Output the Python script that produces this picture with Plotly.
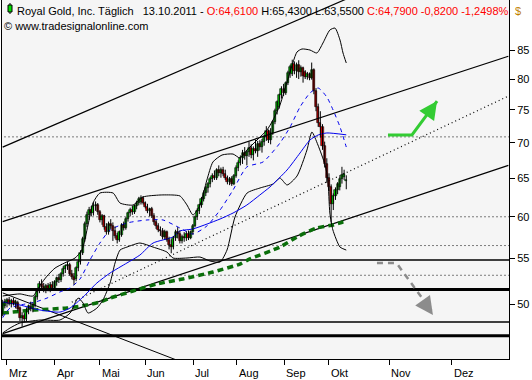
import numpy as np
import plotly.graph_objects as go

# ---------------- data ----------------
bar_index = list(range(-2, 158))   # trading-day index, 0 = 1 Mar 2011, 157 = 13 Oct 2011

opens = [48.95, 49.85, 50.15, 50.45, 50.05, 50.35, 50.05, 50.15, 49.55, 48.55,
         48.75, 48.45, 49.35, 49.65, 49.45, 49.95, 50.75, 51.35, 52.15, 51.85,
         51.55, 51.95, 51.55, 52.05, 51.75, 52.35, 52.75, 52.55, 53.25, 53.8,
         54.1, 54.3, 53.25, 52.95, 52.65, 53.9, 54.6, 55.6, 57.25, 59.1,
         60.25, 60.85, 60.45, 61.35, 61.55, 60.55, 59.6, 60.05, 58.7, 58.1,
         59.1, 58.9, 58.3, 57.65, 57.15, 57.8, 59.0, 58.6, 59.7, 60.45,
         60.85, 60.65, 61.35, 61.75, 61.85, 62.45, 61.75, 61.25, 60.75, 60.95,
         60.15, 59.3, 58.8, 58.4, 58.2, 57.55, 58.1, 57.15, 56.55, 56.35,
         57.35, 58.1, 57.9, 57.05, 57.55, 57.35, 57.9, 57.45, 58.1, 58.9,
         59.95, 60.75, 61.45, 62.25, 63.1, 63.7, 64.2, 64.9, 65.4, 65.1,
         66.1, 65.7, 66.2, 65.6, 65.0, 64.5, 64.9, 64.3, 65.4, 66.5,
         67.2, 67.9, 68.6, 68.1, 68.7, 69.3, 68.3, 69.1, 68.9, 69.8,
         69.4, 70.2, 70.9, 71.8, 70.4, 71.5, 73.1, 74.9, 75.5, 77.3,
         78.4, 77.7, 79.3, 81.0, 80.8, 82.6, 81.3, 82.4, 81.2, 81.8,
         81.2, 80.4, 80.9, 80.2, 81.6, 78.0, 75.4, 73.0, 72.3, 69.5,
         67.0, 65.1, 63.9, 61.65, 62.65, 63.5, 63.8, 64.9, 65.2, 64.61]
highs = [50.45, 50.55, 50.65, 50.75, 50.55, 50.65, 50.45, 50.35, 49.75, 49.15,
         49.05, 49.65, 49.95, 50.25, 50.15, 50.95, 51.65, 52.45, 52.65, 52.25,
         52.15, 52.25, 52.35, 52.45, 52.55, 52.95, 53.25, 53.45, 54.1, 54.3,
         54.6, 54.5, 53.7, 53.35, 54.1, 54.8, 55.95, 57.55, 59.4, 60.65,
         61.25, 61.35, 61.85, 61.95, 61.75, 60.85, 60.35, 60.25, 59.2, 59.4,
         59.7, 59.3, 58.8, 58.0, 58.3, 59.2, 59.4, 59.95, 60.65, 61.15,
         61.35, 61.55, 62.05, 62.55, 62.75, 62.65, 61.95, 61.65, 61.15, 61.25,
         60.45, 59.6, 59.2, 58.8, 58.6, 58.4, 58.3, 57.55, 57.25, 57.65,
         58.4, 58.7, 58.3, 57.8, 58.1, 58.2, 58.3, 58.3, 59.1, 60.15,
         61.05, 61.65, 62.55, 63.4, 64.0, 64.5, 65.2, 65.7, 66.1, 66.4,
         66.8, 66.5, 66.6, 66.2, 65.4, 65.2, 65.3, 65.6, 66.8, 67.5,
         68.2, 69.0, 69.4, 69.0, 70.2, 69.8, 69.5, 70.5, 70.3, 70.4,
         70.6, 71.2, 72.5, 72.0, 72.2, 73.4, 75.2, 76.5, 77.6, 78.8,
         79.2, 79.6, 81.4, 82.4, 83.3, 83.0, 82.8, 83.2, 82.3, 82.1,
         81.5, 81.2, 81.1, 82.8, 81.8, 78.5, 76.0, 74.8, 72.8, 70.2,
         67.8, 65.7, 64.2, 63.0, 63.8, 64.5, 65.3, 66.6, 66.2, 65.43]
lows = [48.75, 49.55, 49.65, 49.85, 49.65, 49.85, 49.55, 49.25, 48.25, 47.7,
        48.15, 48.25, 48.95, 49.25, 49.15, 49.65, 50.45, 51.15, 51.55, 51.25,
        51.15, 51.35, 51.25, 51.45, 51.55, 51.95, 52.25, 52.35, 52.95, 53.35,
        53.7, 53.05, 52.65, 52.05, 52.45, 53.55, 54.3, 55.4, 56.95, 58.7,
        59.6, 60.05, 60.15, 60.75, 60.25, 59.3, 59.0, 58.4, 57.8, 57.8,
        58.5, 57.05, 57.35, 56.75, 56.95, 57.55, 58.3, 58.4, 59.4, 60.05,
        60.25, 60.35, 60.95, 61.45, 61.55, 61.55, 61.05, 60.45, 60.05, 59.85,
        59.0, 58.5, 58.1, 57.65, 57.25, 57.25, 56.95, 56.05, 55.6, 56.05,
        57.05, 57.35, 56.75, 56.75, 56.95, 57.05, 57.15, 57.25, 57.8, 58.7,
        59.6, 60.35, 61.15, 61.95, 62.65, 63.1, 63.8, 64.5, 64.8, 64.8,
        65.3, 65.1, 65.3, 64.8, 64.2, 64.1, 64.0, 64.1, 65.1, 66.0,
        66.8, 67.0, 67.6, 66.8, 68.0, 67.8, 67.5, 68.5, 68.0, 68.9,
        68.6, 69.6, 70.3, 70.0, 69.8, 71.2, 72.8, 74.3, 75.2, 76.8,
        77.2, 77.4, 79.0, 80.2, 80.5, 80.8, 80.2, 80.0, 80.4, 79.4,
        80.0, 79.9, 79.8, 79.9, 77.5, 74.8, 72.4, 70.8, 69.0, 66.5,
        64.4, 63.3, 59.3, 60.85, 62.15, 62.9, 63.4, 64.3, 64.8, 63.55]
closes = [50.15, 50.25, 50.45, 50.05, 50.35, 50.05, 50.25, 49.45, 48.55, 48.75,
          48.45, 49.35, 49.75, 49.45, 49.95, 50.75, 51.35, 52.15, 51.85, 51.55,
          51.95, 51.55, 52.05, 51.75, 52.35, 52.75, 52.55, 53.25, 53.8, 54.1,
          54.3, 53.25, 52.95, 52.55, 53.9, 54.6, 55.6, 57.25, 59.1, 60.25,
          60.85, 60.45, 61.35, 61.55, 60.55, 59.6, 60.05, 58.7, 58.1, 59.1,
          58.9, 58.3, 57.65, 57.15, 58.1, 59.0, 58.6, 59.7, 60.45, 60.85,
          60.65, 61.35, 61.75, 62.25, 62.45, 61.75, 61.25, 60.75, 60.95, 60.15,
          59.3, 58.8, 58.4, 58.2, 57.55, 58.1, 57.15, 56.55, 56.35, 57.35,
          58.1, 57.9, 57.05, 57.55, 57.35, 57.9, 57.45, 58.1, 58.9, 59.95,
          60.75, 61.45, 62.25, 63.1, 63.7, 64.2, 64.9, 65.4, 65.1, 66.1,
          65.7, 66.2, 65.6, 65.0, 64.5, 64.9, 64.3, 65.4, 66.5, 67.2,
          67.9, 68.6, 68.1, 68.7, 69.3, 68.3, 69.1, 68.9, 69.8, 69.4,
          70.2, 70.9, 71.8, 70.4, 71.5, 73.1, 74.9, 76.2, 77.3, 78.4,
          77.7, 79.3, 81.0, 82.0, 82.6, 81.3, 82.4, 81.2, 81.8, 80.5,
          80.4, 80.9, 80.2, 81.6, 78.0, 75.4, 73.0, 72.3, 69.5, 67.0,
          65.1, 63.9, 61.65, 62.65, 63.5, 64.2, 64.9, 65.5, 65.61, 64.79]

# Bollinger bands (sampled along the chart)
bb_upper_x = [-2, 6, 12, 15.3, 18.5, 22.2, 26.8, 31.5, 34.7, 37.5, 39.8, 43, 49.1, 52.3,
              58.3, 62.9, 70.8, 76.8, 80.1, 83.3, 86.1, 89.3, 92.5, 95.3, 99.5, 104.6,
              107.8, 111.1, 115.7, 120.3, 123.1, 126.3, 130, 134.2, 136.5, 140.2, 143.4,
              146.2, 149.4, 151.8, 154.1, 155.5, 157]
bb_upper = [50.85, 51.07, 50.85, 52.0, 53.0, 53.9, 54.5, 55.05, 55.97, 58.98, 61.75, 63.05,
            63.05, 61.75, 61.49, 62.53, 62.79, 62.79, 62.66, 61.49, 60.22, 61.49, 64.79,
            67.28, 68.26, 68.4, 67.84, 68.98, 70.44, 71.92, 73.44, 75.77, 80.0, 84.65,
            85.18, 85.0, 84.47, 86.25, 88.62, 88.99, 86.79, 84.47, 82.73]
bb_lower_x = [-2, 1.4, 6, 15.3, 24.5, 29.2, 32.9, 35.2, 37.5, 41.6, 44.4, 47.7, 50, 52.3,
              55.5, 61.5, 67.6, 74, 76.8, 83.3, 89.3, 93.9, 98.6, 101.8, 105.5, 111.1,
              117.1, 123.1, 126.3, 129.6, 134.2, 138.8, 141.1, 143.9, 147.2, 148.5, 149.4,
              150.8, 154.1, 157]
bb_lower = [47.07, 47.56, 48.06, 48.36, 48.36, 49.07, 50.63, 50.11, 49.07, 49.58, 50.42,
            52.25, 54.48, 55.97, 56.32, 56.8, 56.32, 55.74, 55.05, 55.05, 55.16, 54.71,
            54.59, 55.97, 59.97, 63.05, 63.72, 64.25, 65.06, 64.12, 65.33, 68.98, 71.62,
            69.7, 66.86, 64.79, 60.47, 58.37, 56.32, 55.97]

# moving averages (sampled)
ma_slow_x = [-2, 6, 15.3, 24.5, 29.2, 35.2, 41.6, 47.7, 55.5, 61.5, 67.6, 76.8, 80, 86,
             92.6, 98.6, 104.6, 111, 117, 121.7, 129.6, 135.6, 140.2, 144, 148, 157]
ma_slow = [50.21, 49.9, 49.38, 49.17, 49.59, 50.74, 52.25, 53.35, 54.48, 55.39, 56.8,
           57.52, 58.25, 58.49, 59.1, 59.72, 60.47, 61.49, 62.79, 63.86, 66.16, 68.55,
           70.44, 71.18, 71.48, 71.2]
ma_fast_x = [-2, 1.4, 8.3, 13, 18.5, 24.5, 29.2, 33.8, 38.4, 43, 47.7, 55.5, 64.8, 72.2,
             80, 86, 92.5, 98.6, 104.6, 111, 118.5, 126.3, 131, 135.6, 140.2, 144, 148,
             150.9, 154.1, 157]
ma_fast = [48.6, 49.59, 50.0, 50.21, 50.63, 51.28, 51.71, 52.69, 54.82, 56.8, 58.37,
           59.23, 59.6, 59.6, 58.61, 57.88, 58.86, 60.85, 63.45, 66.58, 67.28, 69.99,
           72.38, 75.46, 77.7, 78.52, 77.05, 74.99, 72.38, 69.41]
ma_long_x = [-2, 12, 27.8, 37, 43, 47.7, 58.3, 69.4, 81.4, 95.3, 107.8, 112.4, 126.3,
             134.2, 143.4, 150.9, 155.5, 157]
ma_long = [49.07, 49.38, 49.59, 49.9, 50.21, 50.63, 51.38, 52.14, 52.69, 53.46, 54.36,
           54.94, 56.32, 57.52, 58.61, 58.98, 59.35, 59.4]

# trend lines: two anchor points each (bar index, price)
line_a_x = [-2, 160];   line_a_p = [69.4, 95.1]
line_b_x = [-2, 232];   line_b_p = [59.4, 83.9]
line_c_x = [-2, 232];   line_c_p = [47.0, 66.8]
line_d_x = [30, 232];   line_d_p = [50.2, 77.2]
line_e_x = [-2, 90];    line_e_p = [51.18, 43.6]

# horizontal levels
levels_dotted = [70.9, 60.0, 56.5, 53.1]
levels_thin = [54.82, 48.16]
levels_thick = [51.54, 46.8]

# forecast arrows
green_arrow_x = [176.3, 187.4, 199.0]
green_arrow_p = [71.18, 71.18, 76.4]
gray_arrow_x = [171.2, 179.5, 180.9, 196.4]
gray_arrow_p = [54.48, 54.48, 54.25, 49.3]
gray_tip = (197.1, 48.87)

month_ticks = [0, 22.2, 43, 63.9, 86.1, 106.4, 128.2, 149, 176.8, 205.9]
month_labels = ["Mrz", "Apr", "Mai", "Jun", "Jul", "Aug", "Sep", "Okt", "Nov", "Dez"]
price_ticks = [50, 55, 60, 65, 70, 75, 80, 85]

# ---------------- figure ----------------
FONT = "Liberation Sans, Arial, sans-serif"
X_RANGE = [-2.31, 232.3]
Y_RANGE = [np.log10(44.58), np.log10(94.36)]
XL, XR = -3, 235
UP, DOWN = "#00E400", "#E80000"

fig = go.Figure()

def add_line(x, y, color="black", width=1, dash="solid", shape="linear"):
    fig.add_trace(go.Scatter(x=x, y=y, mode="lines", hoverinfo="skip", showlegend=False,
                             line=dict(color=color, width=width, dash=dash, shape=shape,
                                       smoothing=0.6 if shape == "spline" else None)))

for lv in levels_dotted:
    add_line([XL, XR], [lv, lv], width=1, dash="1px,3px")
for lv in levels_thin:
    add_line([XL, XR], [lv, lv], width=1.6)
for lv in levels_thick:
    add_line([XL, XR], [lv, lv], width=3)

add_line(line_a_x, line_a_p, width=1.2)
add_line(line_b_x, line_b_p, width=1.2)
add_line(line_c_x, line_c_p, width=1.2)
add_line(line_d_x, line_d_p, width=1.2, dash="1px,3px")
add_line(line_e_x, line_e_p, width=1)

add_line(ma_long_x, ma_long, color="#0A6E0A", width=3.5, dash="6px,4px", shape="spline")
add_line(bb_upper_x, bb_upper, width=1, shape="spline")
add_line(bb_lower_x, bb_lower, width=1, shape="spline")
add_line(ma_slow_x, ma_slow, color="#0000EE", width=1, shape="spline")
add_line(ma_fast_x, ma_fast, color="#0000EE", width=1, dash="4px,4px", shape="spline")

# candles: wicks + bodies
wx, wy = [], []
for i, h, l in zip(bar_index, highs, lows):
    wx += [i, i, None]
    wy += [l, h, None]
fig.add_trace(go.Scatter(x=wx, y=wy, mode="lines", line=dict(color="black", width=1),
                         hoverinfo="skip", showlegend=False))
body_base = [min(o, c) for o, c in zip(opens, closes)]
body_size = [max(abs(c - o), 0.12) for o, c in zip(opens, closes)]
body_color = [UP if c >= o else DOWN for o, c in zip(opens, closes)]
fig.add_trace(go.Bar(x=bar_index, y=body_size, base=body_base, width=0.95,
                     marker=dict(color=body_color, line=dict(color="black", width=0.6)),
                     hoverinfo="skip", showlegend=False))

add_line(green_arrow_x, green_arrow_p, color="#33CC33", width=3)
add_line(gray_arrow_x, gray_arrow_p, color="#8C8C8C", width=2.5, dash="6px,5px")

annotations = []
annotations.append(dict(x=green_arrow_x[-1], y=np.log10(green_arrow_p[-1]), xref="x", yref="y",
                        text="", showarrow=True, ax=-7, ay=10, arrowhead=2, arrowsize=1.2,
                        arrowwidth=3, arrowcolor="#33CC33"))
annotations.append(dict(x=gray_tip[0], y=np.log10(gray_tip[1]), xref="x", yref="y",
                        text="", showarrow=True, ax=-7, ay=-10, arrowhead=2, arrowsize=1.2,
                        arrowwidth=3, arrowcolor="#8C8C8C"))

for t, lab in zip(month_ticks, month_labels):
    annotations.append(dict(x=t, y=0, xref="x", yref="paper", text=lab, showarrow=False,
                            xanchor="left", yanchor="top", xshift=0, yshift=-6,
                            font=dict(family=FONT, size=11, color="black")))

NB = "\u00a0"
title = ("Royal Gold, Inc. Täglich" + NB * 3 + "13.10.2011 - "
         "<span style='color:#FF0000'>O:64,6100</span> H:65,4300 L:63,5500 "
         "<span style='color:#FF0000'>C:64,7900 -0,8200 -1,2498%</span>")
annotations.append(dict(x=0, y=1, xref="paper", yref="paper", text=title, showarrow=False,
                        xanchor="left", yanchor="top", xshift=13, yshift=-3,
                        font=dict(family=FONT, size=11, color="black")))
annotations.append(dict(x=0, y=1, xref="paper", yref="paper", text="© www.tradesignalonline.com",
                        showarrow=False, xanchor="left", yanchor="top", xshift=0, yshift=-18,
                        font=dict(family=FONT, size=11, color="black")))
annotations.append(dict(x=1, y=1, xref="paper", yref="paper", text="$", showarrow=False,
                        xanchor="left", yanchor="top", xshift=4, yshift=-3,
                        font=dict(family=FONT, size=11, color="#C08000")))

H = 359.0
W = 507.0
shapes = [
    dict(type="line", xref="paper", yref="paper", x0=(10 - 2) / W, x1=(10 - 2) / W,
         y0=1 - 14 / H, y1=1 - 3 / H, line=dict(color="black", width=1)),
    dict(type="rect", xref="paper", yref="paper", x0=(8 - 2) / W, x1=(12 - 2) / W,
         y0=1 - 12 / H, y1=1 - 5 / H, line=dict(color="black", width=1), fillcolor="#00E000"),
]

fig.update_layout(
    width=532, height=380,
    margin=dict(l=2, r=23, t=0, b=21),
    paper_bgcolor="white", plot_bgcolor="#F5F5F5",
    showlegend=False, bargap=0, barmode="overlay",
    annotations=annotations, shapes=shapes,
    font=dict(family=FONT, size=11, color="black"),
    xaxis=dict(range=X_RANGE, showgrid=False, zeroline=False,
               tickmode="array", tickvals=month_ticks, showticklabels=False,
               ticks="outside", ticklen=5, tickcolor="black", tickwidth=1,
               showline=True, linecolor="black", linewidth=1, mirror=True),
    yaxis=dict(type="log", range=Y_RANGE, side="right", showgrid=False, zeroline=False,
               tickmode="array", tickvals=price_ticks, ticktext=[str(v) for v in price_ticks],
               ticks="outside", ticklen=5, tickcolor="black", tickwidth=1,
               tickfont=dict(family=FONT, size=11, color="black"),
               showline=True, linecolor="black", linewidth=1, mirror=True),
)

fig.write_html("out.html", config={"displayModeBar": False},
               post_script="document.body.style.margin='0';")
